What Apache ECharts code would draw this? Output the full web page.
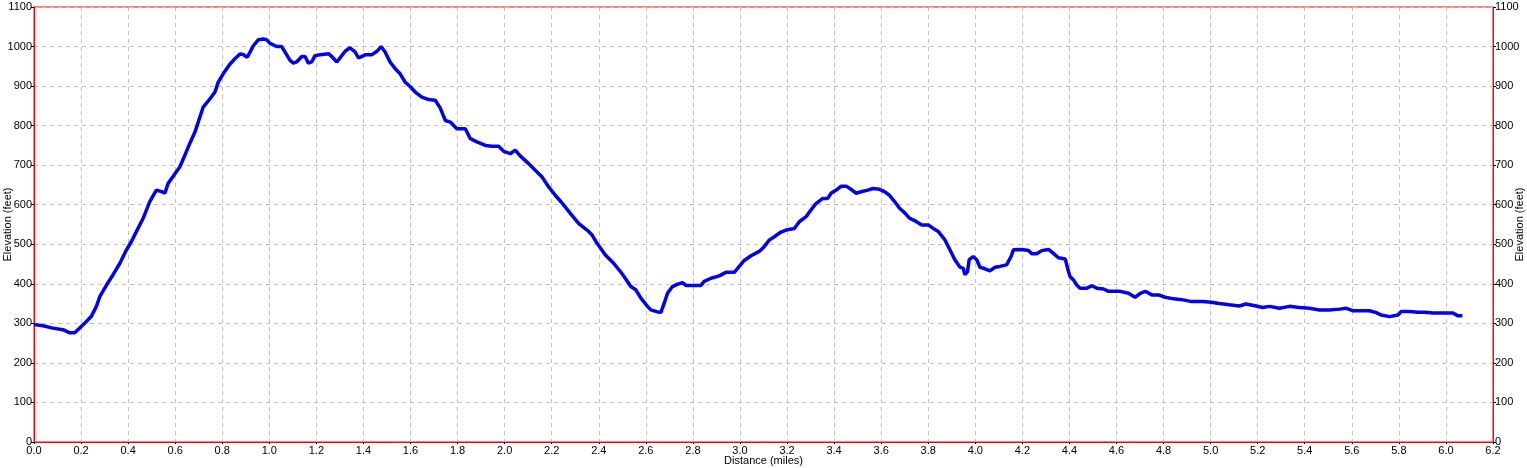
<!DOCTYPE html>
<html>
<head>
<meta charset="utf-8">
<script src="https://cdn.jsdelivr.net/npm/echarts@6/dist/echarts.min.js"></script>
<style>
html,body{margin:0;padding:0;background:#fff;}
#c{width:1527px;height:468px;}
</style>
</head>
<body>
<div id="c"></div>
<script>
// Distance (miles)
const distance = [0,0.038,0.08,0.123,0.152,0.173,0.194,0.216,0.244,0.265,0.28,0.308,0.336,0.365,0.393,0.414,0.435,0.464,0.492,0.52,0.542,0.556,0.57,0.59,0.62,0.641,0.662,0.684,0.698,0.719,0.748,0.769,0.783,0.804,0.833,0.854,0.875,0.889,0.906,0.918,0.932,0.953,0.974,0.989,1.003,1.031,1.052,1.067,1.088,1.102,1.116,1.138,1.152,1.166,1.18,1.194,1.216,1.251,1.265,1.287,1.308,1.322,1.343,1.365,1.379,1.407,1.435,1.457,1.475,1.492,1.513,1.535,1.556,1.577,1.598,1.62,1.648,1.677,1.705,1.726,1.748,1.769,1.797,1.833,1.854,1.882,1.918,1.946,1.974,1.996,2.024,2.045,2.067,2.102,2.13,2.158,2.187,2.215,2.243,2.279,2.314,2.35,2.371,2.392,2.428,2.463,2.492,2.508,2.536,2.557,2.579,2.607,2.621,2.65,2.664,2.678,2.692,2.713,2.735,2.756,2.77,2.799,2.834,2.848,2.877,2.912,2.94,2.976,2.997,3.018,3.047,3.082,3.103,3.125,3.146,3.174,3.196,3.231,3.252,3.281,3.302,3.323,3.352,3.373,3.387,3.409,3.43,3.451,3.472,3.494,3.515,3.543,3.565,3.593,3.614,3.635,3.657,3.678,3.699,3.72,3.742,3.772,3.8,3.821,3.843,3.871,3.892,3.913,3.935,3.949,3.956,3.967,3.974,3.991,4.006,4.02,4.041,4.062,4.084,4.105,4.133,4.152,4.162,4.183,4.204,4.226,4.24,4.261,4.282,4.311,4.332,4.353,4.382,4.389,4.396,4.403,4.417,4.431,4.445,4.474,4.495,4.516,4.545,4.566,4.594,4.616,4.651,4.679,4.701,4.722,4.75,4.779,4.807,4.843,4.878,4.92,4.963,4.994,5.037,5.079,5.122,5.15,5.193,5.221,5.25,5.292,5.335,5.377,5.42,5.462,5.505,5.548,5.577,5.604,5.646,5.675,5.704,5.725,5.76,5.796,5.81,5.845,5.881,5.909,5.945,5.987,6.03,6.051,6.07];
// Elevation (feet)
const elevation = [297,294,288,284,276,276,288,301,318,343,368,397,423,452,486,507,532,566,608,637,633,629,654,671,696,725,755,784,809,847,868,885,910,931,956,969,981,980,973,986,1002,1017,1019,1017,1008,1000,1000,986,965,958,961,975,975,958,961,977,979,982,975,961,977,988,997,986,971,979,979,988,1000,986,961,944,931,910,899,885,872,866,864,845,813,809,792,792,767,759,750,748,748,735,729,738,723,704,687,671,645,624,605,578,553,536,524,503,473,452,431,418,393,385,364,343,334,329,328,351,376,393,399,403,396,396,396,406,414,420,429,429,444,459,471,482,494,511,519,531,536,540,557,570,587,603,616,616,629,637,647,647,639,629,633,637,641,639,633,624,608,591,580,566,560,549,549,540,532,511,486,461,442,439,423,431,461,469,461,442,438,433,442,444,448,469,486,487,486,484,476,476,484,487,477,466,463,461,431,418,410,397,389,389,395,389,387,381,381,381,376,366,376,381,372,372,366,362,360,355,355,354,350,347,344,349,344,340,343,338,343,340,338,334,334,336,338,332,332,332,327,321,317,321,330,330,328,328,326,326,326,319,319];

const xMin = 0, xMax = 6.2, xStep = 0.2;
const yMin = 0, yMax = 1100, yStep = 100;
const xTitle = 'Distance (miles)';
const yTitle = 'Elevation (feet)';

const pts = distance.map((d, i) => [d, elevation[i]]);
const font = '"Liberation Sans", Arial, sans-serif';
const lab = {color:'#000', fontSize:11, fontFamily:font};

function yAxis(pos){
  return {
    type:'value', position:pos, min:yMin, max:yMax, interval:yStep,
    name:yTitle, nameLocation:'middle', nameGap:21, nameMoveOverlap:false,
    nameTextStyle:{color:'#000', fontSize:11, fontFamily:font},
    axisLine:{show:true, lineStyle:{color:'#ff0000', width:1}},
    axisTick:{show:true, length:3, lineStyle:{color:'#000'}},
    axisLabel:Object.assign({margin:2, formatter:v=>String(v)}, lab),
    splitLine:{show:pos==='left', lineStyle:{color:'#c0c0c0', type:[4,4], width:1}}
  };
}

const chart = echarts.init(document.getElementById('c'), null, {renderer:'canvas'});
chart.setOption({
  animation:false,
  backgroundColor:'#fff',
  grid:{left:34, right:34, top:7, bottom:26, containLabel:false, outerBoundsMode:'none', show:true, borderColor:'#ff0000', borderWidth:1, backgroundColor:'transparent'},
  xAxis:{
    type:'value', min:xMin, max:xMax, interval:xStep,
    name:xTitle, nameLocation:'middle', nameGap:13, nameMoveOverlap:false,
    nameTextStyle:{color:'#000', fontSize:11, fontFamily:font},
    axisLine:{show:true, lineStyle:{color:'#ff0000'}},
    axisTick:{show:true, length:2, lineStyle:{color:'#000'}},
    axisLabel:Object.assign({margin:3, formatter:v=>v.toFixed(1)}, lab),
    splitLine:{show:true, lineStyle:{color:'#c0c0c0', type:[4,4], width:1}}
  },
  yAxis:[yAxis('left'), yAxis('right')],
  series:[
    {type:'line', data:pts, showSymbol:false, symbol:'none', lineStyle:{color:'#0000ff', width:3.5}, z:2},
    {type:'line', data:pts, showSymbol:false, symbol:'none', lineStyle:{color:'#000000', width:1, type:[1,4]}, z:3}
  ]
});
</script>
</body>
</html>
